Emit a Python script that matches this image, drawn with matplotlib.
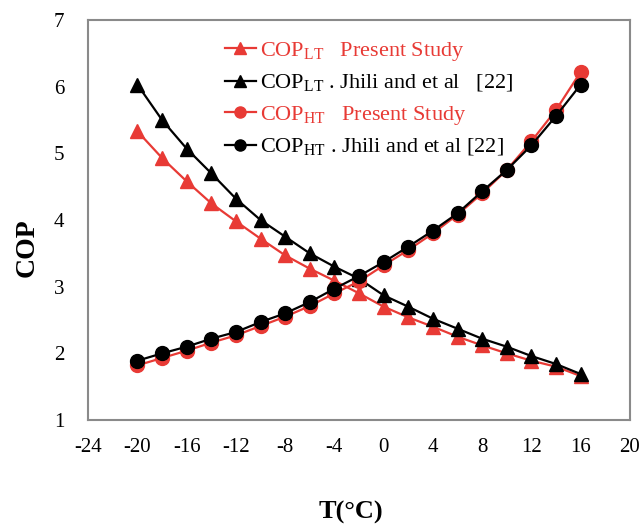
import matplotlib
matplotlib.use("Agg")
import matplotlib.pyplot as plt

# Temperature (°C) and COP values
T = [-20, -18, -16, -14, -12, -10, -8, -6, -4, -2, 0, 2, 4, 6, 8, 10, 12, 14, 16]

cop_lt_present = [5.33, 4.93, 4.58, 4.25, 3.98, 3.72, 3.47, 3.27, 3.09, 2.90,
                  2.70, 2.54, 2.40, 2.25, 2.12, 2.00, 1.89, 1.80, 1.66]
cop_lt_jhili = [6.03, 5.50, 5.07, 4.70, 4.32, 4.00, 3.75, 3.50, 3.30, 3.12,
                2.87, 2.70, 2.52, 2.37, 2.22, 2.10, 1.96, 1.84, 1.69]
cop_ht_present = [1.82, 1.93, 2.04, 2.16, 2.27, 2.41, 2.55, 2.71, 2.90, 3.08,
                  3.32, 3.55, 3.80, 4.08, 4.40, 4.75, 5.18, 5.65, 6.22]
cop_ht_jhili = [1.89, 2.00, 2.10, 2.22, 2.32, 2.47, 2.60, 2.77, 2.97, 3.16,
                3.37, 3.60, 3.84, 4.10, 4.43, 4.75, 5.12, 5.56, 6.03]

labels = [r"COP$_{\mathrm{LT}}$   Present Study",
          r"COP$_{\mathrm{LT}}$ . Jhili and et al   [22]",
          r"COP$_{\mathrm{HT}}$   Present Study",
          r"COP$_{\mathrm{HT}}$ . Jhili and et al [22]"]

x_ticks = list(range(-24, 21, 4))
y_ticks = list(range(1, 8))

red = "#e83a35"

plt.rcParams["font.family"] = ["Liberation Serif", "DejaVu Serif"]
plt.rcParams["mathtext.fontset"] = "custom"
plt.rcParams["mathtext.rm"] = "Liberation Serif"
plt.rcParams["axes.unicode_minus"] = False

fig = plt.figure(figsize=(6.44, 5.27), dpi=100)
ax = fig.add_axes([0.137, 0.203, 0.841, 0.759])

ax.plot(T, cop_lt_present, color=red, marker="^", ms=10, lw=1.6, label=labels[0])
ax.plot(T, cop_lt_jhili, color="black", marker="^", ms=10, lw=1.6, label=labels[1])
ax.plot(T, cop_ht_present, color=red, marker="o", ms=10, lw=1.6, label=labels[2])
ax.plot(T, cop_ht_jhili, color="black", marker="o", ms=10, lw=1.6, label=labels[3])

ax.set_xlim(-24, 20)
ax.set_ylim(1, 7)
ax.set_xticks(x_ticks)
ax.set_yticks(y_ticks)
ax.tick_params(length=0, labelsize=15)
ax.tick_params(axis="x", pad=13)
ax.tick_params(axis="y", pad=17)

for sp in ax.spines.values():
    sp.set_color("#8a8a8a")
    sp.set_linewidth(1.5)

ax.set_xlabel("T(°C)", fontsize=19, fontweight="bold")
ax.set_ylabel("COP", fontsize=20, fontweight="bold")
ax.xaxis.set_label_coords(0.485, -0.203)
ax.yaxis.set_label_coords(-0.089, 0.43)

leg = ax.legend(loc="upper left", bbox_to_anchor=(0.215, 1.0), frameon=False,
                fontsize=16, handlelength=1.4, handletextpad=0.2,
                labelspacing=0.45, markerscale=0.8)
for txt, line in zip(leg.get_texts(), leg.get_lines()):
    txt.set_color(line.get_color())

fig.savefig("out.png", dpi=100)
